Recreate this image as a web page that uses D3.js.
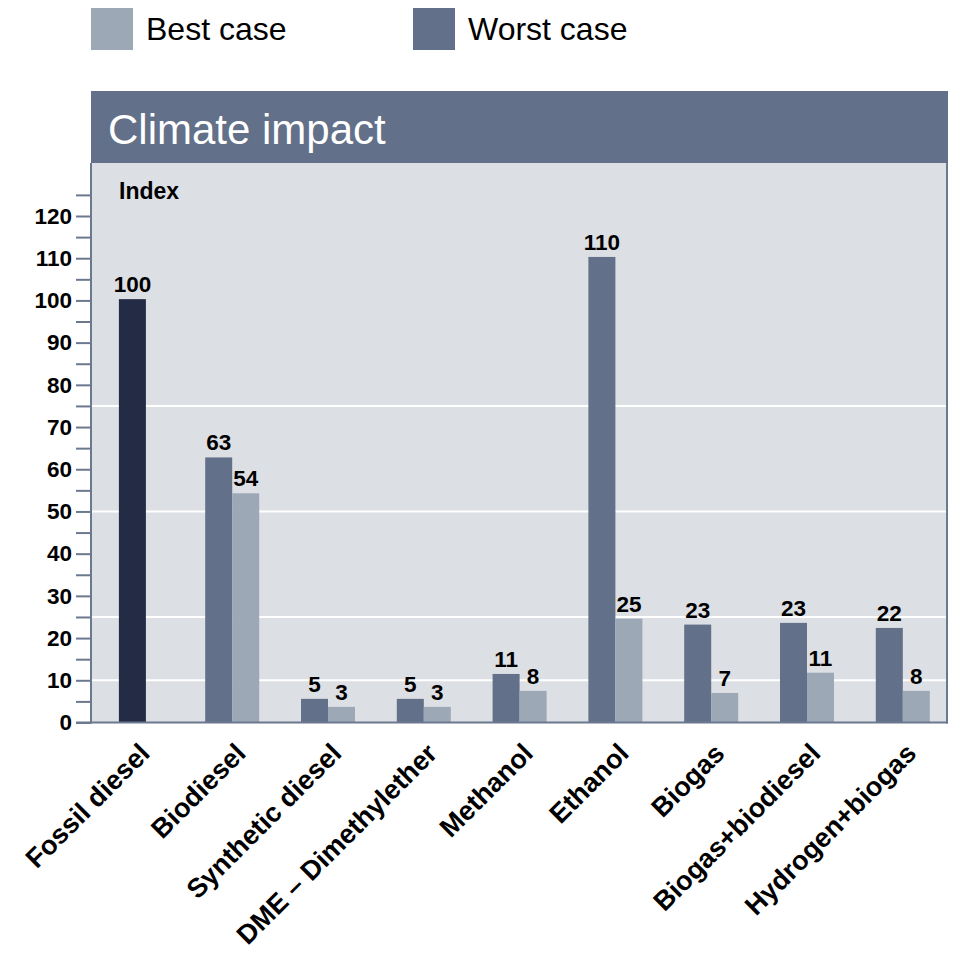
<!DOCTYPE html>
<html>
<head>
<meta charset="utf-8">
<script src="https://cdn.jsdelivr.net/npm/d3@7"></script>
<style>
  html, body { margin: 0; padding: 0; background: #ffffff; }
  svg { display: block; font-family: "Liberation Sans", Arial, sans-serif; }
</style>
</head>
<body>
<svg id="chart" width="954" height="953"></svg>
<script>
// ---- data ----
const categories = ["Fossil diesel", "Biodiesel", "Synthetic diesel", "DME \u2013 Dimethylether",
  "Methanol", "Ethanol", "Biogas", "Biogas+biodiesel", "Hydrogen+biogas"];
const worstCase = [100.3, 62.8, 5.6, 5.6, 11.5, 110.3, 23.2, 23.6, 22.4];
const bestCase  = [null, 54.3, 3.7, 3.7, 7.5, 24.6, 7.0, 11.8, 7.5];
const worstLabels = ["100", "63", "5", "5", "11", "110", "23", "23", "22"];
const bestLabels  = ["", "54", "3", "3", "8", "25", "7", "11", "8"];
const yTickValues = [0, 10, 20, 30, 40, 50, 60, 70, 80, 90, 100, 110, 120];
const yMinorTicks = [0, 5, 10, 15, 20, 25, 30, 35, 40, 45, 50, 55, 60, 65, 70, 75, 80, 85, 90, 95, 100, 105, 110, 115, 120, 125];
const gridValues = [10, 25, 50, 75];
const legendItems = ["Best case", "Worst case"];
const titleText = "Climate impact";
const unitText = "Index";

// ---- style ----
const colWorst = "#627089", colBest = "#9da8b7", colFossil = "#232b45";
const colBg = "#dcdfe4", colTitle = "#627089", colAxis = "#6b7990";

const svg = d3.select("#chart");
const plotL = 91, plotR = 947, plotTop = 163, titleTop = 91;

const y = d3.scaleLinear().domain([0, 120]).range([722.5, 216]);
const x = d3.scaleBand().domain(categories).range([88.5, 950.7]).padding(0);
const barW = 27;

// title bar + plot bg
svg.append("rect").attr("x", plotL).attr("y", titleTop).attr("width", plotR - plotL + 1)
  .attr("height", plotTop - titleTop).attr("fill", colTitle);
svg.append("rect").attr("x", plotL).attr("y", plotTop).attr("width", plotR - plotL)
  .attr("height", y(0) - plotTop).attr("fill", colBg);
svg.append("text").attr("x", 108).attr("y", 144).attr("fill", "#ffffff")
  .attr("font-size", 42).text(titleText);

// gridlines
svg.append("g").selectAll("line").data(gridValues).join("line")
  .attr("x1", plotL).attr("x2", plotR).attr("y1", d => y(d)).attr("y2", d => y(d))
  .attr("stroke", "#ffffff").attr("stroke-width", 2);

// y axis
const yAxis = d3.axisLeft(y).tickValues(yMinorTicks).tickSize(15).tickFormat(d => yTickValues.includes(d) ? d : "").tickPadding(4);
const gy = svg.append("g").attr("transform", `translate(${plotL},0)`).call(yAxis);
gy.select(".domain").remove();
gy.selectAll(".tick line").attr("stroke", colAxis).attr("stroke-width", 2);
gy.selectAll(".tick text").attr("font-size", 22.5).attr("font-weight", "bold").attr("fill", "#000")
  .attr("font-family", "Liberation Sans, Arial, sans-serif");
svg.append("line").attr("x1", plotL).attr("x2", plotL).attr("y1", plotTop).attr("y2", y(0) + 1)
  .attr("stroke", colAxis).attr("stroke-width", 2);
svg.append("line").attr("x1", plotR).attr("x2", plotR).attr("y1", plotTop).attr("y2", y(0) + 1)
  .attr("stroke", colAxis).attr("stroke-width", 2);

svg.append("text").attr("x", 119).attr("y", 199).attr("font-size", 23).attr("font-weight", "bold").text(unitText);

// bars
const rows = categories.map((c, i) => ({c, i, w: worstCase[i], b: bestCase[i]}));
const g = svg.append("g");
rows.forEach(r => {
  const cx = x(r.c) + x.bandwidth() / 2;
  if (r.b === null) {
    g.append("rect").attr("x", cx - barW / 2 - 4).attr("y", y(r.w)).attr("width", barW)
      .attr("height", y(0) - y(r.w)).attr("fill", colFossil);
    g.append("text").attr("x", cx - 4).attr("y", y(r.w) - 7).attr("text-anchor", "middle")
      .attr("font-size", 22.5).attr("font-weight", "bold").text(worstLabels[r.i]);
  } else {
    g.append("rect").attr("x", cx - barW).attr("y", y(r.w)).attr("width", barW)
      .attr("height", y(0) - y(r.w)).attr("fill", colWorst);
    g.append("rect").attr("x", cx).attr("y", y(r.b)).attr("width", barW)
      .attr("height", y(0) - y(r.b)).attr("fill", colBest);
    g.append("text").attr("x", cx - barW / 2).attr("y", y(r.w) - 7).attr("text-anchor", "middle")
      .attr("font-size", 22.5).attr("font-weight", "bold").text(worstLabels[r.i]);
    g.append("text").attr("x", cx + barW / 2).attr("y", y(r.b) - 7).attr("text-anchor", "middle")
      .attr("font-size", 22.5).attr("font-weight", "bold").text(bestLabels[r.i]);
  }
});

// baseline
svg.append("line").attr("x1", 76).attr("x2", plotR + 1).attr("y1", y(0)).attr("y2", y(0))
  .attr("stroke", colAxis).attr("stroke-width", 2);

// x labels
svg.append("g").selectAll("text").data(categories).join("text")
  .attr("transform", d => `translate(${x(d) + x.bandwidth() / 2 + 15},755) rotate(-45)`)
  .attr("text-anchor", "end").attr("font-size", 27).attr("font-weight", "bold").text(d => d);

// legend
const legCols = [colBest, colWorst];
const legX = [91, 413];
legendItems.forEach((t, i) => {
  svg.append("rect").attr("x", legX[i]).attr("y", 8).attr("width", 42).attr("height", 42).attr("fill", legCols[i]);
  svg.append("text").attr("x", legX[i] + 55).attr("y", 40).attr("font-size", 32).text(t);
});
</script>
</body>
</html>
